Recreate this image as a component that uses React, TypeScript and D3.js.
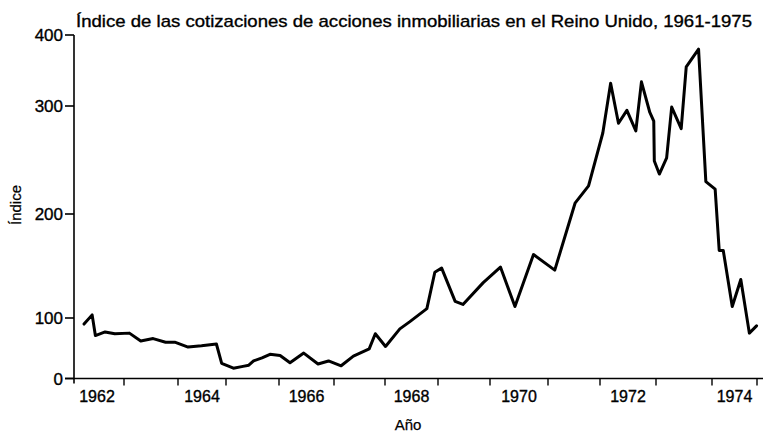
import React from "react";
import * as d3 from "d3";

const years = [
  1962.26, 1962.41, 1962.47, 1962.65, 1962.83, 1963.1, 1963.31, 1963.54, 1963.77, 1963.94,
  1964.21, 1964.49, 1964.8, 1964.91, 1965.14, 1965.32, 1965.43, 1965.52, 1965.68, 1965.83,
  1966.02, 1966.2, 1966.45, 1966.71, 1966.9, 1967.14, 1967.38, 1967.69, 1967.81, 1968.01,
  1968.28, 1968.47, 1968.79, 1968.94, 1969.07, 1969.33, 1969.48, 1969.87, 1970.18, 1970.43,
  1970.75, 1971.13, 1971.52, 1971.78, 1972.05, 1972.19, 1972.33, 1972.48, 1972.64, 1972.74,
  1972.89, 1972.96, 1972.97, 1973.06, 1973.19, 1973.28, 1973.45, 1973.54, 1973.76, 1973.89,
  1974.07, 1974.16, 1974.25, 1974.45, 1974.64, 1974.83, 1974.99,
];
const values = [
  90, 103, 71, 77, 74, 75, 62, 66, 60, 60,
  52, 54, 57, 25, 17, 20, 22, 29, 34, 40,
  38, 26, 42, 24, 29, 21, 37, 49, 74, 53,
  82, 94, 109, 144, 148, 116, 113, 134, 149, 111,
  161, 146, 210, 226, 275, 332, 284, 296, 277, 334,
  294, 286, 249, 237, 252, 299, 279, 355, 380, 230,
  223, 165, 165, 111, 137, 75, 87,
];
const yTicks = [0, 100, 200, 300, 400];
const yearBoundaries = [1963, 1964, 1965, 1966, 1967, 1968, 1969, 1970, 1971, 1972, 1973, 1974, 1975];
const yearLabels = [1962, 1964, 1966, 1968, 1970, 1972, 1974];

const title = "Índice de las cotizaciones de acciones inmobiliarias en el Reino Unido, 1961-1975";
const xTitle = "Año";
const yTitle = "Índice";

export default function App() {
  const W = 781;
  const H = 433;
  // axis as drawn in the reference (unevenly spaced ticks)
  const y = d3.scaleLinear().domain(yTicks).range([378.5, 318, 214, 106, 35]);
  const x = d3
    .scaleLinear()
    .domain(yearBoundaries)
    .range([124, 178, 226, 279, 334, 385, 438, 490, 548, 600, 656, 712, 757]);

  const line = d3
    .line<number>()
    .x((_, i) => x(years[i]))
    .y((v) => y(v))
    .curve(d3.curveLinear);

  const axisX = 74;
  const axisY = y(0);
  const font = "'Liberation Sans', Arial, Helvetica, sans-serif";
  const txt = { fill: "#000", stroke: "#000", strokeWidth: 0.35 };

  return (
    <svg
      width={W}
      height={H}
      style={{ position: "absolute", left: 0, top: 0, background: "#fff" }}
      fontFamily={font}
    >
      <rect width={W} height={H} fill="#fff" />
      <text x={76} y={27} fontSize={17} textLength={676} lengthAdjust="spacingAndGlyphs" {...txt}>
        {title}
      </text>

      {/* Y axis */}
      <line x1={axisX} x2={axisX} y1={y(400)} y2={axisY + 5} stroke="#000" strokeWidth={1.6} />
      {yTicks.map((t) => (
        <g key={t}>
          <line x1={axisX - 9} x2={axisX} y1={y(t)} y2={y(t)} stroke="#000" strokeWidth={1.6} />
          <text x={axisX - 11} y={y(t) + 6} fontSize={17} textAnchor="end" {...txt}>
            {t}
          </text>
        </g>
      ))}
      <text
        transform={`translate(${21},${205}) rotate(-90)`}
        fontSize={15}
        textAnchor="middle"
        {...txt}
        strokeWidth={0.25}
      >
        {yTitle}
      </text>

      {/* X axis */}
      <line x1={axisX - 9} x2={763} y1={axisY} y2={axisY} stroke="#000" strokeWidth={1.6} />
      {yearBoundaries.map((b) => (
        <line key={b} x1={x(b)} x2={x(b)} y1={axisY} y2={axisY + 7} stroke="#000" strokeWidth={1.4} />
      ))}
      {yearLabels.map((yr) => (
        <text key={yr} x={x(yr + 0.5)} y={402} fontSize={16} textAnchor="middle" {...txt}>
          {yr}
        </text>
      ))}
      <text x={408} y={430} fontSize={15} textAnchor="middle" {...txt} strokeWidth={0.25}>
        {xTitle}
      </text>

      {/* data line */}
      <path
        d={line(values) || ""}
        fill="none"
        stroke="#000"
        strokeWidth={3}
        strokeLinejoin="round"
        strokeLinecap="round"
      />
    </svg>
  );
}
